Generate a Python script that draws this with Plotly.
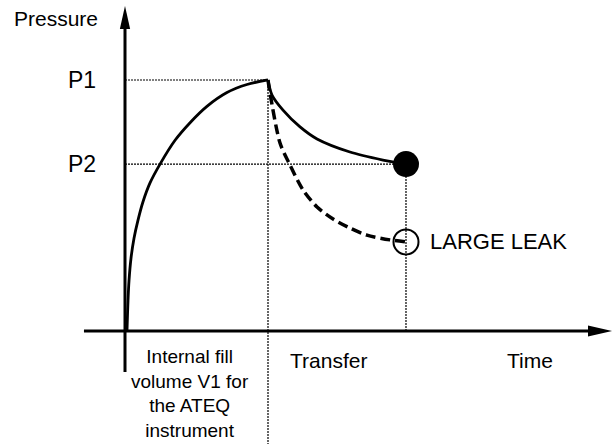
import plotly.graph_objects as go

# Pressure levels (arbitrary units) and key instants (arbitrary time units)
P1 = 10.0
P2 = 6.65
P_LEAK = 3.55
T_FILL = 10.0
T_END = 19.65

# Fill of the internal volume V1: pressure rising from 0 to P1
fill_t = [0.14, 0.21, 0.28, 0.42, 0.63, 0.91, 1.26, 1.75, 2.45, 3.50, 4.55, 5.73, 7.13, 8.53, 10.0]
fill_p = [0.0, 1.2, 2.0, 2.9, 3.7, 4.42, 5.15, 5.9, 6.65, 7.6, 8.3, 8.95, 9.5, 9.82, 10.0]

# Transfer into the part: no leak, settles at P2
ok_t = [10.0, 10.28, 11.05, 12.24, 13.43, 15.73, 18.04, 18.8, 19.65]
ok_p = [10.0, 9.4, 8.8, 8.13, 7.65, 7.13, 6.81, 6.73, 6.65]

# Transfer into the part: large leak, pressure keeps dropping
leak_t = [10.0, 10.14, 10.84, 11.54, 12.45, 13.43, 14.55, 15.73, 16.92, 18.53, 19.65]
leak_p = [10.0, 9.48, 7.49, 6.61, 5.62, 4.94, 4.46, 4.10, 3.82, 3.63, 3.55]

FONT = "Liberation Sans, Arial, sans-serif"
INK = "black"

fig = go.Figure()

# Dotted reference lines
guide = dict(color=INK, width=1.2, dash="2px,1px")
fig.add_trace(go.Scatter(x=[0, T_FILL], y=[P1, P1], mode="lines", line=guide))
fig.add_trace(go.Scatter(x=[0, T_END], y=[P2, P2], mode="lines", line=guide))
fig.add_trace(go.Scatter(x=[T_FILL, T_FILL], y=[P1, -4.5], mode="lines", line=guide))
fig.add_trace(go.Scatter(x=[T_END, T_END], y=[P2, 0], mode="lines", line=guide))

# Pressure curves
fig.add_trace(go.Scatter(x=fill_t, y=fill_p, mode="lines",
                         line=dict(color=INK, width=2.8, shape="spline", smoothing=1)))
fig.add_trace(go.Scatter(x=ok_t, y=ok_p, mode="lines",
                         line=dict(color=INK, width=2.8, shape="spline", smoothing=0.8)))
fig.add_trace(go.Scatter(x=leak_t, y=leak_p, mode="lines",
                         line=dict(color=INK, width=3.5, dash="10px,5px",
                                   shape="spline", smoothing=0.8)))

# End-of-test points
fig.add_trace(go.Scatter(x=[T_END], y=[P2], mode="markers",
                         marker=dict(size=26, color=INK, line=dict(width=0))))
fig.add_trace(go.Scatter(x=[T_END], y=[P_LEAK], mode="markers",
                         marker=dict(size=25, symbol="circle-open", color=INK,
                                     line=dict(width=2, color=INK))))

# Axes with arrow heads
shapes = [
    dict(type="line", x0=0, x1=0, y0=-1.63, y1=12.1, line=dict(color=INK, width=3)),
    dict(type="line", x0=-2.87, x1=32.6, y0=0, y1=0, line=dict(color=INK, width=3)),
    dict(type="path", path="M 0 12.95 L -0.36 12.03 L 0.36 12.03 Z",
         fillcolor=INK, line=dict(width=0)),
    dict(type="path", path="M 34.06 0 L 32.38 0.22 L 32.38 -0.22 Z",
         fillcolor=INK, line=dict(width=0)),
]

annotations = [
    dict(x=-4.83, y=12.47, text="Pressure", font=dict(size=21)),
    dict(x=-1.89, y=P1, text="P1", xanchor="right", font=dict(size=23)),
    dict(x=-1.89, y=P2, text="P2", xanchor="right", font=dict(size=23)),
    dict(x=21.2, y=P_LEAK, text="LARGE LEAK", xanchor="left", font=dict(size=22)),
    dict(x=4.55, y=-2.49,
         text="Internal fill<br>volume V1 for<br>the ATEQ<br>instrument",
         font=dict(size=19)),
    dict(x=14.2, y=-1.16, text="Transfer", font=dict(size=21)),
    dict(x=28.3, y=-1.16, text="Time", font=dict(size=21)),
]
for a in annotations:
    a.update(showarrow=False, xref="x", yref="y", yanchor="middle")
    a.setdefault("xanchor", "center")
    a["font"].update(family=FONT, color=INK)

fig.update_layout(
    width=615, height=444,
    margin=dict(l=0, r=0, t=0, b=0),
    paper_bgcolor="white", plot_bgcolor="white",
    showlegend=False,
    xaxis=dict(range=[-8.741, 34.266], visible=False, fixedrange=True),
    yaxis=dict(range=[-4.502, 13.187], visible=False, fixedrange=True),
    shapes=shapes,
    annotations=annotations,
)

fig.write_html("out.html", config={"displayModeBar": False})
